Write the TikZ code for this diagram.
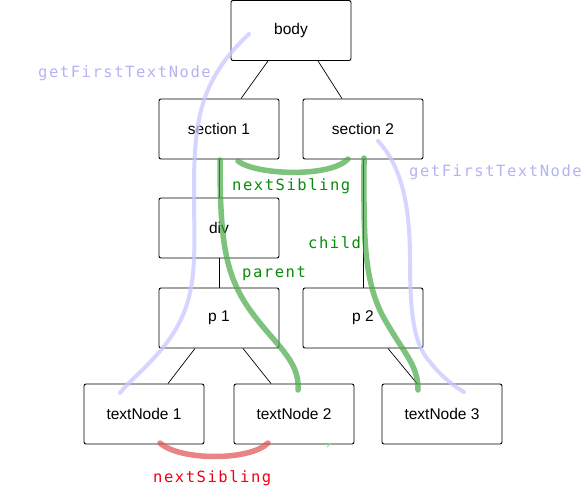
\documentclass[tikz,border=0pt]{standalone}
\usepackage{fontspec}
\setmainfont{Liberation Sans}
\newfontfamily\labelmono[LetterSpace=10]{DejaVu Sans Mono}
\definecolor{bluestroke}{RGB}{200,200,255}
\definecolor{bluetext}{RGB}{180,180,245}
\definecolor{greenstroke}{RGB}{70,170,70}
\definecolor{greentext}{RGB}{10,140,10}
\definecolor{redstroke}{RGB}{225,80,80}
\definecolor{redtext}{RGB}{240,0,20}
\begin{document}
\begin{tikzpicture}[x=1pt,y=-1pt,
  dombox/.style={draw=black,line width=0.9pt,rounded corners=2pt,minimum width=120pt,minimum height=60pt,inner sep=0pt,font=\fontsize{15.5}{18}\selectfont},
  edge/.style={draw=black,line width=0.7pt},
  bluepath/.style={draw=bluestroke,line width=4pt,line cap=round,opacity=0.75},
  greenpath/.style={draw=greenstroke,line width=5.5pt,line cap=round,opacity=0.7},
  redpath/.style={draw=redstroke,line width=5.5pt,line cap=round,opacity=0.7},
  lbl/.style={anchor=west,inner sep=0pt,font=\labelmono\fontsize{15.5}{18}\selectfont}]
\useasboundingbox (0,0) rectangle (586,487);
\fill[white] (0,0) rectangle (586,487);
% nodes
\node[dombox] (body) at (291,30.5) {body};
\node[dombox] (sec1) at (219,129) {section 1};
\node[dombox] (sec2) at (363,129) {section 2};
\node[dombox] (div) at (219,228) {div};
\node[dombox] (p1) at (219,318) {p 1};
\node[dombox] (p2) at (363,318) {p 2};
\node[dombox] (tn1) at (144,414) {textNode 1};
\node[dombox] (tn2) at (294,414) {textNode 2};
\node[dombox] (tn3) at (442,414) {textNode 3};
% tree edges
\draw[edge] ([xshift=-23pt]body.south) -- ([xshift=22pt]sec1.north);
\draw[edge] ([xshift=27pt]body.south) -- ([xshift=-21pt]sec2.north);
\draw[edge] (sec1.south) -- (div.north);
\draw[edge] (div.south) -- (p1.north);
\draw[edge] (sec2.south) -- (p2.north);
\draw[edge] ([xshift=-24pt]p1.south) -- ([xshift=24pt]tn1.north);
\draw[edge] ([xshift=24pt]p1.south) -- ([xshift=-23pt]tn2.north);
\draw[edge] ([xshift=25pt]p2.south) -- ([xshift=-25pt]tn3.north);
% coordinates for the hand-drawn strokes
\coordinate (bl0) at (249,34);
\coordinate (bl1) at (120,393);
\coordinate (br0) at (378,141);
\coordinate (br1) at (464,392);
\coordinate (ns0) at (238,161);
\coordinate (ns1) at (348,159);
\coordinate (pa0) at (220,160);
\coordinate (pa1) at (298,390);
\coordinate (ch0) at (364,158);
\coordinate (ch1) at (418,390);
\coordinate (rs0) at (160,443);
\coordinate (rs1) at (268,443);
\coordinate (tk0) at (327,447);
\coordinate (tk1) at (331,443);
% blue strokes
\draw[bluepath] (bl0) .. controls (200,80) and (194,120) .. (194,190)
  .. controls (194,260) and (200,300) .. (165,345)
  .. controls (145,370) and (130,380) .. (bl1);
\draw[bluepath] (br0) .. controls (400,165) and (410,200) .. (410,260)
  .. controls (410,320) and (415,345) .. (430,362)
  .. controls (440,375) and (452,385) .. (br1);
% green strokes
\draw[greenpath] (ns0) .. controls (255,175) and (330,178) .. (ns1);
\draw[greenpath] (pa0) .. controls (220,240) and (225,275) .. (250,310)
  .. controls (275,345) and (300,360) .. (pa1);
\draw[greenpath] (ch0) .. controls (364,230) and (362,280) .. (385,320)
  .. controls (405,355) and (418,365) .. (ch1);
\draw[redpath] (rs0) .. controls (180,461) and (250,461) .. (rs1);
\draw[draw=green!60,line width=1pt] (tk0) -- (tk1);
% labels
\node[lbl,text=bluetext] (gf1) at (38,73) {getFirstTextNode};
\node[lbl,text=bluetext] (gf2) at (409,172) {getFirstTextNode};
\node[lbl,text=greentext] (nsl) at (232,186) {nextSibling};
\node[lbl,text=greentext] (chl) at (308,243) {child};
\node[lbl,text=greentext] (pal) at (242,274) {parent};
\node[lbl,text=redtext] (rsl) at (153,478) {nextSibling};
\end{tikzpicture}
\end{document}
